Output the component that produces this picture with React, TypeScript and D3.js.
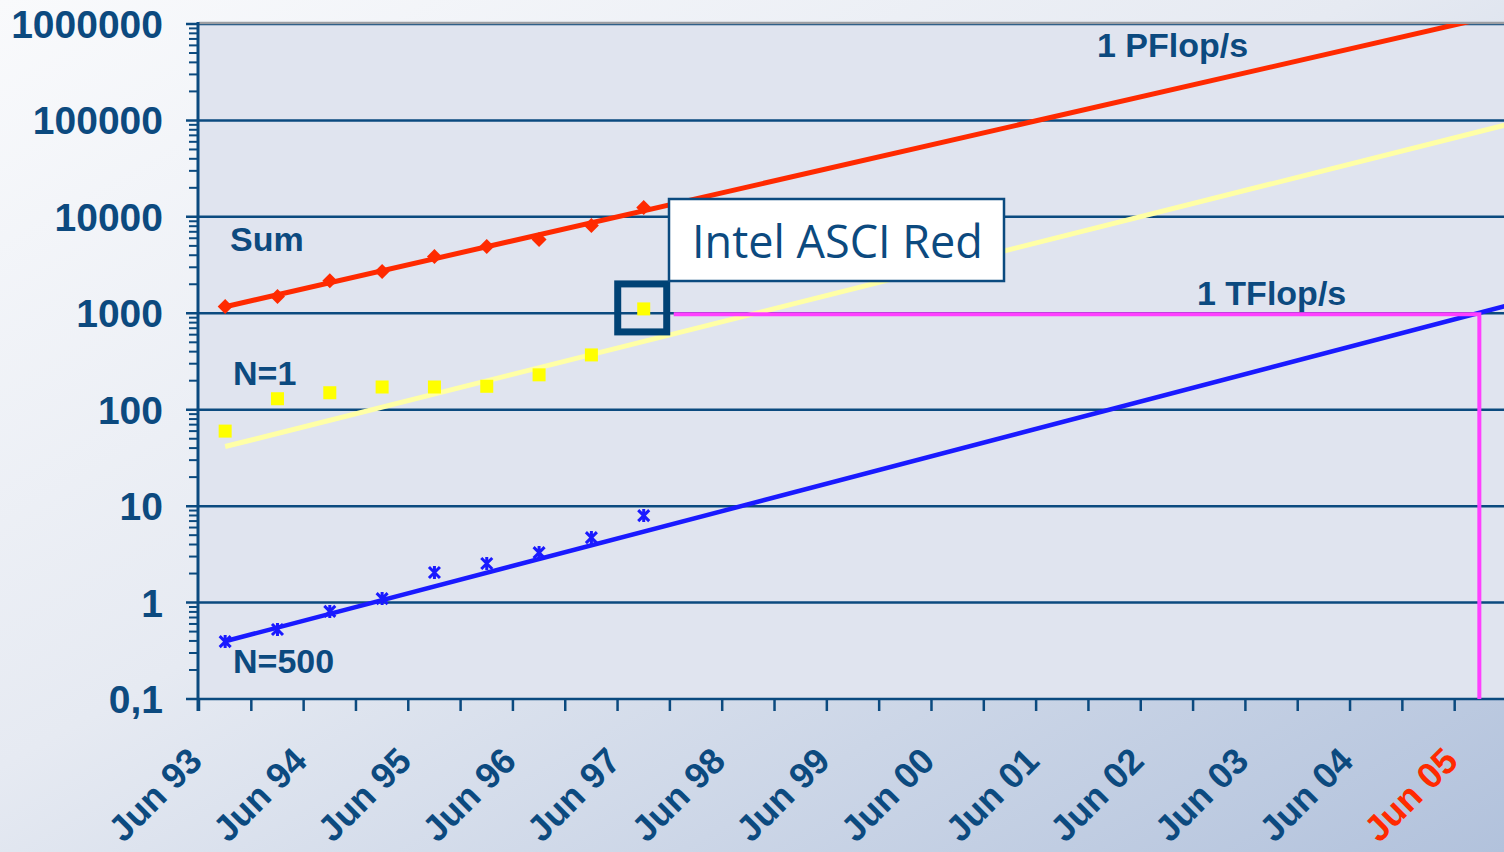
import React from "react";
import * as d3 from "d3";

const categories = [
  "Jun 93", "Nov 93", "Jun 94", "Nov 94", "Jun 95", "Nov 95", "Jun 96", "Nov 96",
  "Jun 97", "Nov 97", "Jun 98", "Nov 98", "Jun 99", "Nov 99", "Jun 00", "Nov 00",
  "Jun 01", "Nov 01", "Jun 02", "Nov 02", "Jun 03", "Nov 03", "Jun 04", "Nov 04", "Jun 05",
];
const sumValues = [1175, 1490, 2180, 2710, 3870, 4920, 5810, 8120, 12500];
const n1Values = [60, 130, 150, 172, 172, 175, 230, 370, 1110];
const n500Values = [0.394, 0.525, 0.81, 1.1, 2.05, 2.54, 3.3, 4.72, 7.98];
// trend line values at Jun 93 and Jun 05
const sumTrend = [1170, 1130000];
const n1Trend = [41.5, 77200];
const n500Trend = [0.397, 1020];
const yTickValues = [0.1, 1, 10, 100, 1000, 10000, 100000, 1000000];
const yTickLabels = ["0,1", "1", "10", "100", "1000", "10000", "100000", "1000000"];
const seriesLabels = ["Sum", "N=1", "N=500"];
const annotationLabels = ["1 PFlop/s", "1 TFlop/s", "Intel ASCI Red"];
const targetValue = 1000;
const targetCategory = "Jun 05";
const highlightCategory = "Jun 97";

const W = 1504;
const H = 852;
const L = 199;
const T = 24;
const B = 699;
const R = 1507;
const BLUE_TXT = "#0C4A7F";
const GRID = "#0B4A7F";

export default function App() {
  const x = d3.scaleLinear().domain([-0.5, categories.length - 0.5]).range([L, R]);
  const y = d3.scaleLog().domain([0.1, 1e6]).range([B, T]);
  const idx = (c: string) => categories.indexOf(c);
  const last = categories.length - 1;

  const trendPts = (tr: number[]) => {
    const a = Math.log10(tr[0]);
    const b = Math.log10(tr[1]);
    const xs = [0, last + 0.5];
    return xs.map((i) => [x(i), y(Math.pow(10, a + ((b - a) * i) / last))] as [number, number]);
  };
  const line = d3.line<[number, number]>();

  const minorTicks: number[] = [];
  for (let d = -1; d < 6; d++) {
    for (let k = 2; k <= 9; k++) minorTicks.push(k * Math.pow(10, d));
  }

  const hx = x(idx(highlightCategory));
  const hy = y(n1Values[idx(highlightCategory)]);
  const tx = x(idx(targetCategory)) - 1.5;
  const ty = y(targetValue);

  const labelFont = "'Liberation Sans', Arial, sans-serif";

  return (
    <svg width={W} height={H} style={{ position: "absolute", left: 0, top: 0 }}>
      <defs>
        <linearGradient id="bg" x1="0" y1="0" x2="1" y2="1">
          <stop offset="0" stopColor="#F9FAFC" />
          <stop offset="0.45" stopColor="#E6EAF2" />
          <stop offset="1" stopColor="#B2C2DC" />
        </linearGradient>
        <clipPath id="plot">
          <rect x={L} y={T} width={R - L} height={B - T} />
        </clipPath>
      </defs>
      <rect x={0} y={0} width={W} height={H} fill="url(#bg)" />
      <rect x={L} y={T} width={R - L} height={B - T} fill="#E0E4EF" />

      {/* gridlines */}
      {yTickValues.map((v) => (
        <line key={"g" + v} x1={L - 13} x2={R} y1={y(v)} y2={y(v)} stroke={GRID} strokeWidth={2.5} />
      ))}
      <line x1={L} x2={R} y1={T - 1} y2={T - 1} stroke="#9C9EA3" strokeWidth={2.5} />

      {/* y minor ticks */}
      {minorTicks.map((v) => (
        <line key={"m" + v} x1={L - 10} x2={L} y1={y(v)} y2={y(v)} stroke={GRID} strokeWidth={2} />
      ))}
      {/* axes */}
      <line x1={L - 1} x2={L - 1} y1={T - 2} y2={B + 12} stroke={GRID} strokeWidth={3} />
      {d3.range(categories.length + 1).map((i) => (
        <line key={"xt" + i} x1={x(i - 0.5)} x2={x(i - 0.5)} y1={B} y2={B + 12} stroke={GRID} strokeWidth={2.5} />
      ))}

      {/* y tick labels */}
      {yTickValues.map((v, i) => (
        <text key={"yl" + v} x={163} y={y(v) + 14} textAnchor="end" fontFamily={labelFont}
          fontWeight="bold" fontSize={39} fill={BLUE_TXT}>
          {yTickLabels[i]}
        </text>
      ))}

      {/* x tick labels */}
      {categories.map((c, i) =>
        c.startsWith("Jun") ? (
          <text key={"xl" + c} transform={`translate(${x(i) - 21},${763}) rotate(-45)`} textAnchor="end"
            fontFamily={labelFont} fontWeight="bold" fontSize={36}
            fill={c === targetCategory ? "#FF2A00" : BLUE_TXT}>
            {c}
          </text>
        ) : null
      )}

      <g clipPath="url(#plot)">
        {/* trend lines */}
        <path d={line(trendPts(n1Trend)) || ""} stroke="#FFFFA6" strokeWidth={5} fill="none" />
        <path d={line(trendPts(n500Trend)) || ""} stroke="#1A1AFF" strokeWidth={4.5} fill="none" />
        <path d={line(trendPts(sumTrend)) || ""} stroke="#FF2A00" strokeWidth={5} fill="none" />

        {/* target lines */}
        <path d={`M${hx + 30},${ty + 1}H${tx}V${B}`} stroke="#FF40FF" strokeWidth={4} fill="none" />

        {/* markers */}
        {sumValues.map((v, i) => (
          <path key={"s" + i} transform={`translate(${x(i)},${y(v)})`} d="M0,-7.5L7.5,0L0,7.5L-7.5,0Z" fill="#FF2A00" />
        ))}
        {n1Values.map((v, i) => (
          <rect key={"n1" + i} x={x(i) - 6.5} y={y(v) - 6.5} width={13} height={13} fill="#FFFF00" />
        ))}
        {n500Values.map((v, i) => (
          <path key={"n5" + i} transform={`translate(${x(i)},${y(v)})`} d="M-5.5,-5.5L5.5,5.5M5.5,-5.5L-5.5,5.5M0,-6.5V6.5"
            stroke="#1A1AFF" strokeWidth={3} fill="none" />
        ))}
      </g>

      {/* highlight box */}
      <rect x={hx - 26} y={hy - 25} width={49} height={48} fill="none" stroke="#004275" strokeWidth={7} />

      {/* ASCI Red callout */}
      <rect x={669} y={199} width={335} height={82} fill="#FFFFFF" stroke={GRID} strokeWidth={2.5} />
      <text x={692} y={258} fontFamily="'Open Sans', sans-serif" fontSize={45} fill={BLUE_TXT}>
        {annotationLabels[2]}
      </text>

      {/* series labels */}
      <text x={230} y={251} fontFamily={labelFont} fontWeight="bold" fontSize={34} fill={BLUE_TXT}>{seriesLabels[0]}</text>
      <text x={233} y={385} fontFamily={labelFont} fontWeight="bold" fontSize={34} fill={BLUE_TXT}>{seriesLabels[1]}</text>
      <text x={233} y={673} fontFamily={labelFont} fontWeight="bold" fontSize={34} fill={BLUE_TXT}>{seriesLabels[2]}</text>
      <text x={1097} y={57} fontFamily={labelFont} fontWeight="bold" fontSize={34} fill={BLUE_TXT}>{annotationLabels[0]}</text>
      <text x={1197} y={305} fontFamily={labelFont} fontWeight="bold" fontSize={34} fill={BLUE_TXT}>{annotationLabels[1]}</text>
    </svg>
  );
}
